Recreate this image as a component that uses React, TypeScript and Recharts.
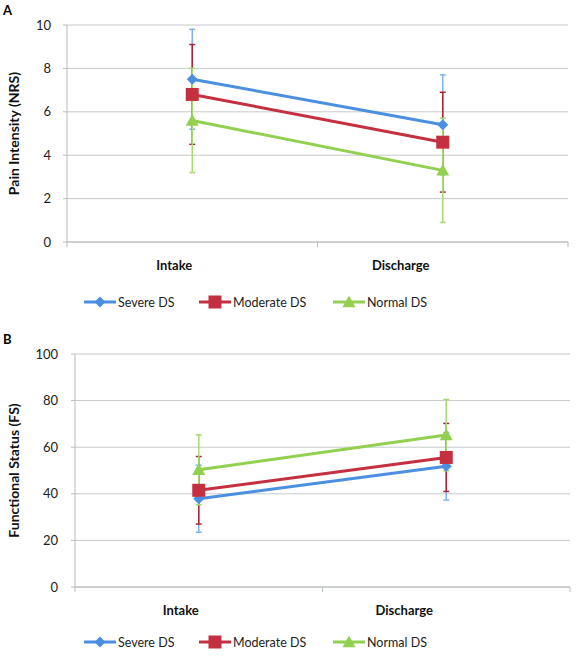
import { LineChart, Line, XAxis, YAxis, CartesianGrid, Legend, ErrorBar } from 'recharts';

const categories = ['Intake', 'Discharge'];
const seriesNames = ['Severe DS', 'Moderate DS', 'Normal DS'];

// panel A: pain intensity (NRS), mean and SD
const painSevere = [7.5, 5.4];
const painSevereSd = [2.3, 2.3];
const painModerate = [6.8, 4.6];
const painModerateSd = [2.3, 2.3];
const painNormal = [5.6, 3.3];
const painNormalSd = [2.4, 2.4];
const painTicks = [0, 2, 4, 6, 8, 10];

// panel B: functional status (FS)
const fsSevere = [37.9, 51.8];
const fsSevereSd = [14.4, 14.5];
const fsModerate = [41.5, 55.6];
const fsModerateSd = [14.5, 14.6];
const fsNormal = [50.3, 65.2];
const fsNormalSd = [15, 15.3];
const fsTicks = [0, 20, 40, 60, 80, 100];

const FONT = 'Lato, "Open Sans", sans-serif';
const BLUE = '#4a8fe0';
const RED = '#c4303f';
const GREEN = '#92d050';
const colors = [BLUE, RED, GREEN];
const errColors = ['#7fb2ea', '#a8283a', '#a9da70'];

const buildRows = (s: number[], se: number[], m: number[], me: number[], n: number[], ne: number[]) =>
  categories.map((c, i) => ({
    name: c,
    x: i + 0.5,
    severe: s[i],
    severeSd: se[i],
    moderate: m[i],
    moderateSd: me[i],
    normal: n[i],
    normalSd: ne[i],
  }));

const painData = buildRows(painSevere, painSevereSd, painModerate, painModerateSd, painNormal, painNormalSd);
const fsData = buildRows(fsSevere, fsSevereSd, fsModerate, fsModerateSd, fsNormal, fsNormalSd);

function Marker({ kind, cx, cy }: { kind: number; cx: number; cy: number }) {
  if (cx == null || cy == null) return null;
  if (kind === 0) {
    const r = 5.5;
    return <polygon points={`${cx},${cy - r} ${cx + r},${cy} ${cx},${cy + r} ${cx - r},${cy}`} fill={BLUE} />;
  }
  if (kind === 1) {
    const h = 6.5;
    return <rect x={cx - h} y={cy - h} width={h * 2} height={h * 2} fill={RED} />;
  }
  const h = 6.5;
  return <polygon points={`${cx},${cy - h} ${cx + h},${cy + h * 0.8} ${cx - h},${cy + h * 0.8}`} fill={GREEN} />;
}

const labelShift: Record<number, number> = { 0.5: -18, 1.5: -42 };

function XTick(props: any) {
  const { x, y, payload } = props;
  const v = payload.value;
  if (Number.isInteger(v)) {
    return <line x1={x} y1={y} x2={x} y2={y + 5} stroke="#b8bcbc" strokeWidth={1} />;
  }
  const idx = Math.floor(v);
  return (
    <text x={x + (labelShift[v] ?? 0)} y={y + 28} textAnchor="middle" fontFamily={FONT} fontWeight="bold" fontSize={13} fill="#111">
      {categories[idx]}
    </text>
  );
}

function LegendContent() {
  const lefts = [84, 199, 333];
  return (
    <div style={{ position: 'relative', height: 30, width: 576, fontFamily: FONT, fontSize: 12.5, color: '#222' }}>
      {seriesNames.map((n, i) => (
        <div key={n} style={{ position: 'absolute', left: lefts[i], top: 6, display: 'flex', alignItems: 'center' }}>
          <svg width={34} height={16}>
            <line x1={0} y1={8} x2={32} y2={8} stroke={colors[i]} strokeWidth={3} />
            <Marker kind={i} cx={16} cy={8} />
          </svg>
          <span>{n}</span>
        </div>
      ))}
    </div>
  );
}

function Panel({ data, ticks, max, title, yWidth, height, margin, xHeight, tickMargin }: any) {
  const keys = ['severe', 'moderate', 'normal'];
  return (
    <LineChart width={576} height={height} data={data} margin={margin}>
      <CartesianGrid vertical={false} stroke="#c6caca" strokeWidth={1} />
      <XAxis
        dataKey="x"
        type="number"
        domain={[0, 2]}
        ticks={[0, 0.5, 1, 1.5, 2]}
        interval={0}
        height={xHeight}
        tickSize={0}
        tickMargin={0}
        tickLine={false}
        axisLine={{ stroke: '#b8bcbc' }}
        tick={<XTick />}
      />
      <YAxis
        domain={[0, max]}
        ticks={ticks}
        width={yWidth}
        tickSize={4}
        tickMargin={tickMargin}
        tickLine={{ stroke: '#b8bcbc' }}
        axisLine={{ stroke: '#b8bcbc' }}
        tick={{ fontFamily: FONT, fontSize: 13, fill: '#222' }}
        label={{
          value: title,
          angle: -90,
          position: 'insideLeft',
          offset: 14,
          style: { textAnchor: 'middle', fontFamily: FONT, fontWeight: 'bold', fontSize: 14, fill: '#111' },
        }}
      />
      <Legend verticalAlign="bottom" height={30} wrapperStyle={{ left: 0, width: 576 }} content={<LegendContent />} />
      {keys.map((k, i) => (
        <Line
          key={k}
          dataKey={k}
          name={seriesNames[i]}
          stroke={colors[i]}
          strokeWidth={3}
          isAnimationActive={false}
          dot={(p: any) => <Marker key={`${k}-${p.index}`} kind={i} cx={p.cx} cy={p.cy} />}
          activeDot={false}
        >
          <ErrorBar dataKey={`${k}Sd`} direction="y" width={3} stroke={errColors[i]} strokeWidth={1.5} />
        </Line>
      ))}
    </LineChart>
  );
}

export default function App() {
  return (
    <div style={{ position: 'absolute', left: 0, top: 0, width: 576, height: 663, background: '#fff' }}>
      <div style={{ position: 'absolute', left: 3, top: 2, fontFamily: FONT, fontWeight: 'bold', fontSize: 13 }}>A</div>
      <div style={{ position: 'absolute', left: 0, top: 0 }}>
        <Panel
          data={painData}
          ticks={painTicks}
          max={10}
          title="Pain Intensity (NRS)"
          yWidth={67}
          height={322}
          margin={{ top: 25, right: 8, left: 0, bottom: 4 }}
          xHeight={46}
          tickMargin={12}
        />
      </div>
      <div style={{ position: 'absolute', left: 3, top: 331, fontFamily: FONT, fontWeight: 'bold', fontSize: 13 }}>B</div>
      <div style={{ position: 'absolute', left: 0, top: 330 }}>
        <Panel
          data={fsData}
          ticks={fsTicks}
          max={100}
          title="Functional Status (FS)"
          yWidth={75}
          height={333}
          margin={{ top: 24, right: 6, left: 0, bottom: 5 }}
          xHeight={41}
          tickMargin={13}
        />
      </div>
    </div>
  );
}
